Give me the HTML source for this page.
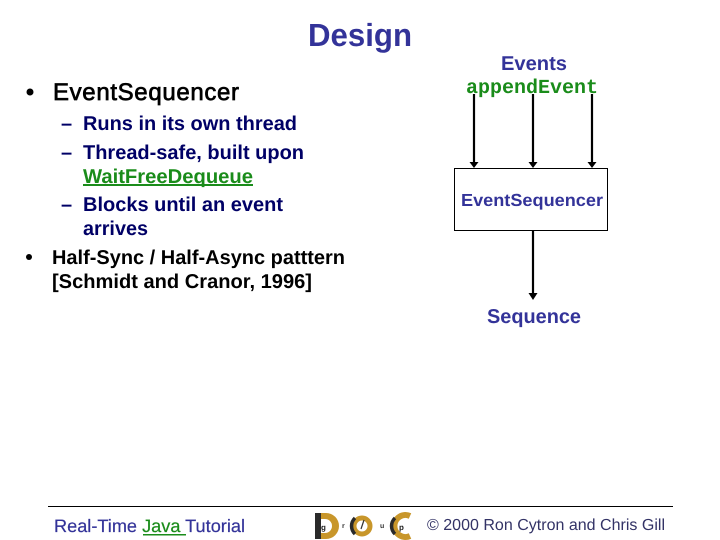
<!DOCTYPE html>
<html>
<head>
<meta charset="utf-8">
<style>
html,body{margin:0;padding:0;background:#fff;}
svg{display:block;}
text{font-family:"Liberation Sans",sans-serif;text-rendering:geometricPrecision;}
</style>
</head>
<body>
<svg width="720" height="540" viewBox="0 0 720 540" xmlns="http://www.w3.org/2000/svg">
<rect width="720" height="540" fill="#fff"/>
<text x="308" y="46" font-size="32" font-weight="700" fill="#333399" textLength="104" lengthAdjust="spacingAndGlyphs">Design</text>

<circle cx="30" cy="92" r="3.500" fill="#000"/>
<text x="53" y="100" font-size="24" fill="#000" stroke="#000" stroke-width="0.7" textLength="186" lengthAdjust="spacing">EventSequencer</text>

<g font-weight="700" fill="#000066" font-size="20">
<text x="61" y="130">–</text>
<text x="83" y="130" textLength="214" lengthAdjust="spacingAndGlyphs">Runs in its own thread</text>
<text x="61" y="159">–</text>
<text x="83" y="159" textLength="221" lengthAdjust="spacingAndGlyphs">Thread-safe, built upon</text>
<text x="83" y="183" fill="#1a8c1a" textLength="170" lengthAdjust="spacingAndGlyphs">WaitFreeDequeue</text>
<rect x="83" y="184" width="170" height="2" fill="#1a8c1a"/>
<text x="61" y="211">–</text>
<text x="83" y="211" textLength="200" lengthAdjust="spacingAndGlyphs">Blocks until an event</text>
<text x="83" y="235" textLength="65" lengthAdjust="spacingAndGlyphs">arrives</text>
</g>
<g font-weight="700" fill="#000" font-size="20">
<circle cx="29" cy="257" r="3" fill="#000"/>
<text x="52" y="264" textLength="293" lengthAdjust="spacingAndGlyphs">Half-Sync / Half-Async patttern</text>
<text x="52" y="288" textLength="260" lengthAdjust="spacingAndGlyphs">[Schmidt and Cranor, 1996]</text>
</g>

<text x="501" y="70" font-size="20" font-weight="700" fill="#333399" textLength="66" lengthAdjust="spacingAndGlyphs">Events</text>
<text x="466" y="93" font-size="20" font-weight="700" fill="#1a8c1a" style="font-family:'Liberation Mono',monospace" textLength="132" lengthAdjust="spacingAndGlyphs">appendEvent</text>

<g stroke="#000" stroke-width="2.200" fill="none">
<line x1="474" y1="94" x2="474" y2="163"/>
<line x1="533" y1="94" x2="533" y2="163"/>
<line x1="592" y1="94" x2="592" y2="163"/>
<line x1="533" y1="231" x2="533" y2="294"/>
</g>
<g fill="#000">
<path d="M469.500 162h9l-4.500 6z"/>
<path d="M528.500 162h9l-4.500 6z"/>
<path d="M587.500 162h9l-4.500 6z"/>
<path d="M528.500 293h9l-4.500 7z"/>
</g>
<rect x="454.500" y="168.500" width="153" height="62" fill="none" stroke="#000" stroke-width="1"/>
<text x="461" y="206" font-size="17.500" font-weight="700" fill="#333399" textLength="142" lengthAdjust="spacingAndGlyphs">EventSequencer</text>
<text x="487" y="323" font-size="20" font-weight="700" fill="#333399" textLength="94" lengthAdjust="spacingAndGlyphs">Sequence</text>

<rect x="48" y="506" width="625" height="1" fill="#000"/>
<text x="54" y="532" font-size="18" fill="#333399" stroke="#333399" stroke-width="0.2" textLength="191" lengthAdjust="spacingAndGlyphs">Real-Time <tspan fill="#1a8c1a" stroke="#1a8c1a">Java </tspan>Tutorial</text>
<rect x="143" y="534" width="43" height="1.500" fill="#1a8c1a"/>

<!-- DOC logo -->
<g>
<path d="M315 513h11a13 13 0 0 1 0 26h-11z" fill="#c8962a"/>
<rect x="315" y="513" width="6" height="26" fill="#2a2a2a"/>
<path d="M321 519h4a7 7 0 0 1 0 14h-4z" fill="#fff"/>
<text x="321" y="530" font-size="8" font-weight="700" fill="#222">g</text>
<text x="342" y="528" font-size="7" font-weight="700" fill="#333">r</text>
<circle cx="362" cy="526" r="8" fill="none" stroke="#c8962a" stroke-width="5"/>
<path d="M355 518a11 11 0 0 0 0 16" fill="none" stroke="#2a2a2a" stroke-width="3.500"/>
<path d="M364 520l-3 9" stroke="#333" stroke-width="1.200"/>
<text x="380" y="528" font-size="7" font-weight="700" fill="#333">u</text>
<path d="M410 516a11 11 0 1 0 0 20" fill="none" stroke="#c8962a" stroke-width="6"/>
<path d="M395 518a11 11 0 0 0 0 16" fill="none" stroke="#2a2a2a" stroke-width="3.500"/>
<text x="399" y="530" font-size="8" font-weight="700" fill="#222">p</text>
</g>

<text x="427" y="530" font-size="16" fill="#333366" textLength="238" lengthAdjust="spacingAndGlyphs">© 2000 Ron Cytron and Chris Gill</text>
</svg>
</body>
</html>
